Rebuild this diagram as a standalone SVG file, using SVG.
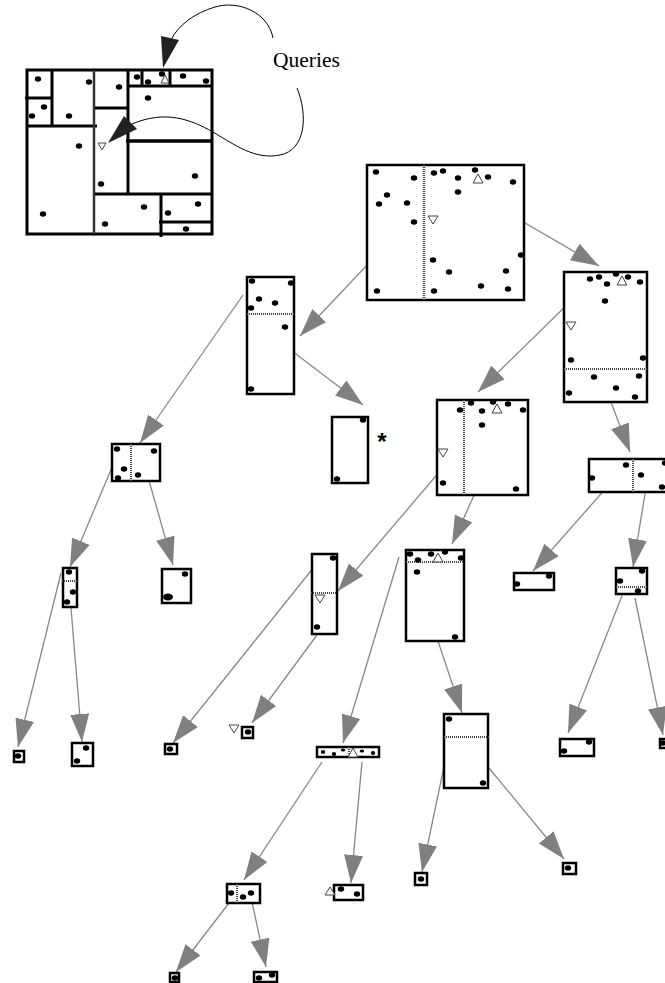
<svg xmlns="http://www.w3.org/2000/svg" width="665" height="983" viewBox="0 0 665 983">
<style>
.nd rect{fill:#fff;stroke:#000;stroke-width:2.5}
.nd ellipse,.map ellipse{fill:#000}
.sp{stroke:#444;stroke-width:2;stroke-dasharray:1 1;fill:none}
.tri{fill:#fff;stroke:#444;stroke-width:1}
.map path{stroke:#000;stroke-width:3;fill:none}
#connectors line{stroke:#888;stroke-width:1.3;marker-end:url(#ah)}
.q{fill:none;stroke:#000;stroke-width:1}
</style>
<defs>
<marker id="ah" markerUnits="userSpaceOnUse" markerWidth="30" markerHeight="22" refX="28" refY="10" orient="auto"><path d="M0,0.5 L28,10 L0,19.5 z" fill="#808080"/></marker>
<ellipse id="d" rx="3.2" ry="2.7"/>
</defs>

<g id="map" class="map">
<rect x="27" y="70" width="185" height="164" fill="#fff" stroke="#000" stroke-width="3"/>
<path d="M52,70V126M25,98H52M27,126H97M128,70V193M93,108H128M128,86H212M142,70V86M170,70V86M94,194H212M161,194V237M159,222H212"/>
<path d="M126,141H212" style="stroke-width:3.5"/>
<path d="M94,70V234" style="stroke:#333;stroke-width:2.5"/>
<g>
<use href="#d" x="38" y="79"/><use href="#d" x="89" y="82"/><use href="#d" x="119" y="87"/><use href="#d" x="137" y="77"/><use href="#d" x="148" y="82"/><use href="#d" x="162" y="74"/><use href="#d" x="183" y="76"/><use href="#d" x="206" y="81"/><use href="#d" x="148" y="98"/><use href="#d" x="44" y="107"/><use href="#d" x="32" y="116"/><use href="#d" x="69" y="116"/><use href="#d" x="79" y="146"/><use href="#d" x="101" y="184"/><use href="#d" x="195" y="176"/><use href="#d" x="144" y="207"/><use href="#d" x="168" y="213"/><use href="#d" x="198" y="204"/><use href="#d" x="43" y="214"/><use href="#d" x="105" y="224"/><use href="#d" x="186" y="229"/>
</g>
<polygon class="tri" points="161,83 169,83 165,75"/>
<polygon class="tri" points="98,143 106,143 102,150"/>
</g>

<g id="queries">
<text x="273" y="67" font-family="Liberation Serif, serif" font-size="21.5" fill="#000">Queries</text>
<path class="q" d="M273,38 C268,12 238,0 215,7 C195,13 178,25 171,40"/>
<polygon points="163,68 161,36 179,40" fill="#222"/>
<path class="q" d="M297,88 C308,115 306,150 280,155 C255,160 235,145 213,132 C190,119 165,110 132,124"/>
<polygon points="108,143 124,116 137,129" fill="#222"/>
</g>

<g id="connectors">
<line x1="513" y1="216" x2="599" y2="266"/>
<line x1="386" y1="245" x2="300" y2="336"/>
<line x1="288" y1="348" x2="363" y2="405"/>
<line x1="243" y1="295" x2="140" y2="443"/>
<line x1="113" y1="465" x2="70" y2="567"/>
<line x1="146" y1="470" x2="173" y2="565"/>
<line x1="61" y1="573" x2="18" y2="747"/>
<line x1="71" y1="608" x2="82" y2="742"/>
<line x1="574" y1="298" x2="478" y2="392"/>
<line x1="609" y1="397" x2="630" y2="452"/>
<line x1="490" y1="460" x2="452" y2="544"/>
<line x1="452" y1="457" x2="338" y2="591"/>
<line x1="317" y1="635" x2="252" y2="723"/>
<line x1="322" y1="557" x2="173" y2="743"/>
<line x1="399" y1="557" x2="343" y2="743"/>
<line x1="432" y1="623" x2="462" y2="713"/>
<line x1="452" y1="728" x2="422" y2="872"/>
<line x1="489" y1="768" x2="564" y2="859"/>
<line x1="322" y1="762" x2="244" y2="880"/>
<line x1="362" y1="762" x2="351" y2="883"/>
<line x1="229" y1="903" x2="176" y2="972"/>
<line x1="252" y1="902" x2="266" y2="967"/>
<line x1="607" y1="487" x2="533" y2="571"/>
<line x1="646" y1="488" x2="633" y2="567"/>
<line x1="629" y1="578" x2="568" y2="733"/>
<line x1="635" y1="598" x2="663" y2="735"/>
</g>

<g id="root" class="nd">
<rect x="367" y="165" width="157" height="135"/>
<path class="sp" d="M424,165V300" style="stroke-width:2.5"/>
<use href="#d" x="376" y="172"/><use href="#d" x="414" y="178"/><use href="#d" x="387" y="195"/><use href="#d" x="379" y="204"/><use href="#d" x="407" y="203"/><use href="#d" x="414" y="222"/><use href="#d" x="434" y="173"/><use href="#d" x="443" y="171"/><use href="#d" x="458" y="178"/><use href="#d" x="475" y="170"/><use href="#d" x="488" y="177"/><use href="#d" x="513" y="182"/><use href="#d" x="458" y="192"/><use href="#d" x="521" y="255"/><use href="#d" x="433" y="260"/><use href="#d" x="449" y="272"/><use href="#d" x="506" y="271"/><use href="#d" x="377" y="291"/><use href="#d" x="434" y="291"/><use href="#d" x="481" y="286"/><use href="#d" x="508" y="289"/>
<polygon class="tri" points="473,183 483,183 478,174"/>
<polygon class="tri" points="428,216 438,216 433,224"/>
</g>

<g id="nA" class="nd">
<rect x="564" y="272" width="83" height="130"/>
<path class="sp" d="M564,369H647"/>
<use href="#d" x="590" y="279"/><use href="#d" x="599" y="277"/><use href="#d" x="607" y="284"/><use href="#d" x="616" y="274"/><use href="#d" x="628" y="277"/><use href="#d" x="640" y="282"/><use href="#d" x="605" y="301"/><use href="#d" x="571" y="360"/><use href="#d" x="643" y="358"/><use href="#d" x="594" y="377"/><use href="#d" x="639" y="376"/><use href="#d" x="569" y="393"/><use href="#d" x="616" y="388"/><use href="#d" x="635" y="397"/>
<polygon class="tri" points="617,285 627,285 622,276"/>
<polygon class="tri" points="566,322 576,322 571,330"/>
</g>

<g id="nB" class="nd">
<rect x="247" y="277" width="47" height="117"/>
<path class="sp" d="M247,314H294"/>
<use href="#d" x="252" y="281"/><use href="#d" x="291" y="283"/><use href="#d" x="259" y="299"/><use href="#d" x="275" y="303"/><use href="#d" x="251" y="308"/><use href="#d" x="285" y="327"/><use href="#d" x="251" y="389"/>
</g>

<g id="nC" class="nd">
<rect x="332" y="417" width="36" height="66"/>
<use href="#d" x="363" y="420"/><use href="#d" x="337" y="479"/>
<text x="382" y="450" font-family="Liberation Sans, sans-serif" font-size="24" font-weight="bold" text-anchor="middle">*</text>
</g>

<g id="nD" class="nd">
<rect x="112" y="444" width="48" height="37"/>
<path class="sp" d="M131,444V481"/>
<use href="#d" x="117" y="449"/><use href="#d" x="154" y="451"/><use href="#d" x="124" y="469"/><use href="#d" x="118" y="478"/><use href="#d" x="138" y="475"/>
</g>

<g id="nE" class="nd">
<rect x="63" y="568" width="14" height="39"/>
<path class="sp" d="M62,581H77"/>
<use href="#d" x="69" y="572"/><use href="#d" x="73" y="592"/><use href="#d" x="67" y="602"/>
</g>

<g id="nF" class="nd">
<rect x="162" y="569" width="29" height="34"/>
<use href="#d" x="185" y="574"/><ellipse cx="168" cy="597" rx="5" ry="3.5"/>
</g>

<g id="nG" class="nd"><rect x="14" y="751" width="10" height="11"/><use href="#d" x="18" y="756"/></g>
<g id="nH" class="nd"><rect x="72" y="743" width="21" height="23"/><use href="#d" x="86" y="748"/><use href="#d" x="77" y="761"/></g>

<g id="nI" class="nd">
<rect x="312" y="554" width="25" height="80"/>
<path class="sp" d="M311,593H337"/>
<use href="#d" x="333" y="558"/><use href="#d" x="317" y="627"/>
<polygon class="tri" points="315,595 325,595 320,603"/>
</g>

<g id="nK" class="nd">
<rect x="242" y="727" width="11" height="11"/><use href="#d" x="248" y="732"/>
<polygon class="tri" points="229,725 239,725 234,733"/>
</g>
<g id="nL" class="nd"><rect x="165" y="744" width="12" height="10"/><use href="#d" x="170" y="749"/></g>

<g id="nJ" class="nd">
<rect x="437" y="400" width="91" height="95"/>
<path class="sp" d="M464,400V495"/>
<use href="#d" x="460" y="410"/><use href="#d" x="471" y="403"/><use href="#d" x="482" y="411"/><use href="#d" x="493" y="402"/><use href="#d" x="508" y="404"/><use href="#d" x="523" y="410"/><use href="#d" x="482" y="425"/><use href="#d" x="443" y="483"/><use href="#d" x="516" y="489"/>
<polygon class="tri" points="492,413 502,413 497,404"/>
<polygon class="tri" points="438,449 448,449 443,457"/>
</g>

<g id="nM" class="nd">
<rect x="406" y="550" width="58" height="91"/>
<path class="sp" d="M406,562H464"/>
<use href="#d" x="410" y="554"/><use href="#d" x="418" y="560"/><use href="#d" x="431" y="554"/><use href="#d" x="445" y="552"/><use href="#d" x="461" y="558"/><use href="#d" x="417" y="572"/><use href="#d" x="455" y="637"/>
<polygon class="tri" points="433,562 443,562 438,553"/>
</g>

<g id="nN" class="nd">
<rect x="317" y="747" width="62" height="10"/>
<path class="sp" d="M349,747V757"/>
<ellipse cx="323" cy="752" rx="2.2" ry="2"/><ellipse cx="334" cy="754" rx="2.2" ry="2"/><ellipse cx="343" cy="750" rx="2.2" ry="1.6"/><ellipse cx="362" cy="751" rx="2.2" ry="1.6"/><ellipse cx="373" cy="753" rx="2.2" ry="2"/>
<polygon class="tri" points="348,757 358,757 353,748"/>
</g>

<g id="nO" class="nd">
<rect x="444" y="714" width="44" height="74"/>
<path class="sp" d="M444,737H489"/>
<use href="#d" x="449" y="719"/><use href="#d" x="483" y="783"/>
</g>

<g id="nP" class="nd"><rect x="415" y="873" width="12" height="12"/><use href="#d" x="421" y="879"/></g>
<g id="nQ" class="nd"><rect x="563" y="863" width="13" height="11"/><use href="#d" x="568" y="868"/></g>

<g id="nR" class="nd">
<rect x="227" y="884" width="33" height="19"/>
<path class="sp" d="M237,884V903"/>
<use href="#d" x="231" y="893"/><use href="#d" x="243" y="897"/><use href="#d" x="251" y="893"/>
</g>

<g id="nS" class="nd">
<rect x="334" y="885" width="29" height="15"/>
<use href="#d" x="341" y="889"/><use href="#d" x="357" y="894"/>
<polygon class="tri" points="325,895 335,895 330,887"/>
</g>

<g id="nT" class="nd"><rect x="170" y="973" width="9" height="9"/><use href="#d" x="175" y="978"/></g>
<g id="nU" class="nd"><rect x="254" y="972" width="23" height="10"/><use href="#d" x="259" y="978"/><use href="#d" x="272" y="975"/></g>

<g id="nV" class="nd">
<rect x="589" y="459" width="80" height="33"/>
<path class="sp" d="M633,459V492"/>
<use href="#d" x="626" y="465"/><use href="#d" x="592" y="478"/><use href="#d" x="641" y="475"/><use href="#d" x="662" y="487"/><use href="#d" x="665" y="463"/>
</g>

<g id="nW" class="nd">
<rect x="514" y="573" width="40" height="17"/>
<use href="#d" x="549" y="576"/><use href="#d" x="517" y="584"/>
</g>

<g id="nX" class="nd">
<rect x="616" y="568" width="31" height="26"/>
<path class="sp" d="M616,587H647"/>
<use href="#d" x="642" y="571"/><use href="#d" x="620" y="581"/><use href="#d" x="638" y="591"/>
</g>

<g id="nY" class="nd">
<rect x="560" y="739" width="34" height="17"/>
<use href="#d" x="589" y="742"/><use href="#d" x="564" y="751"/>
</g>

<g id="nZ" class="nd"><rect x="660" y="739" width="8" height="9"/><use href="#d" x="663" y="743"/></g>
</svg>
